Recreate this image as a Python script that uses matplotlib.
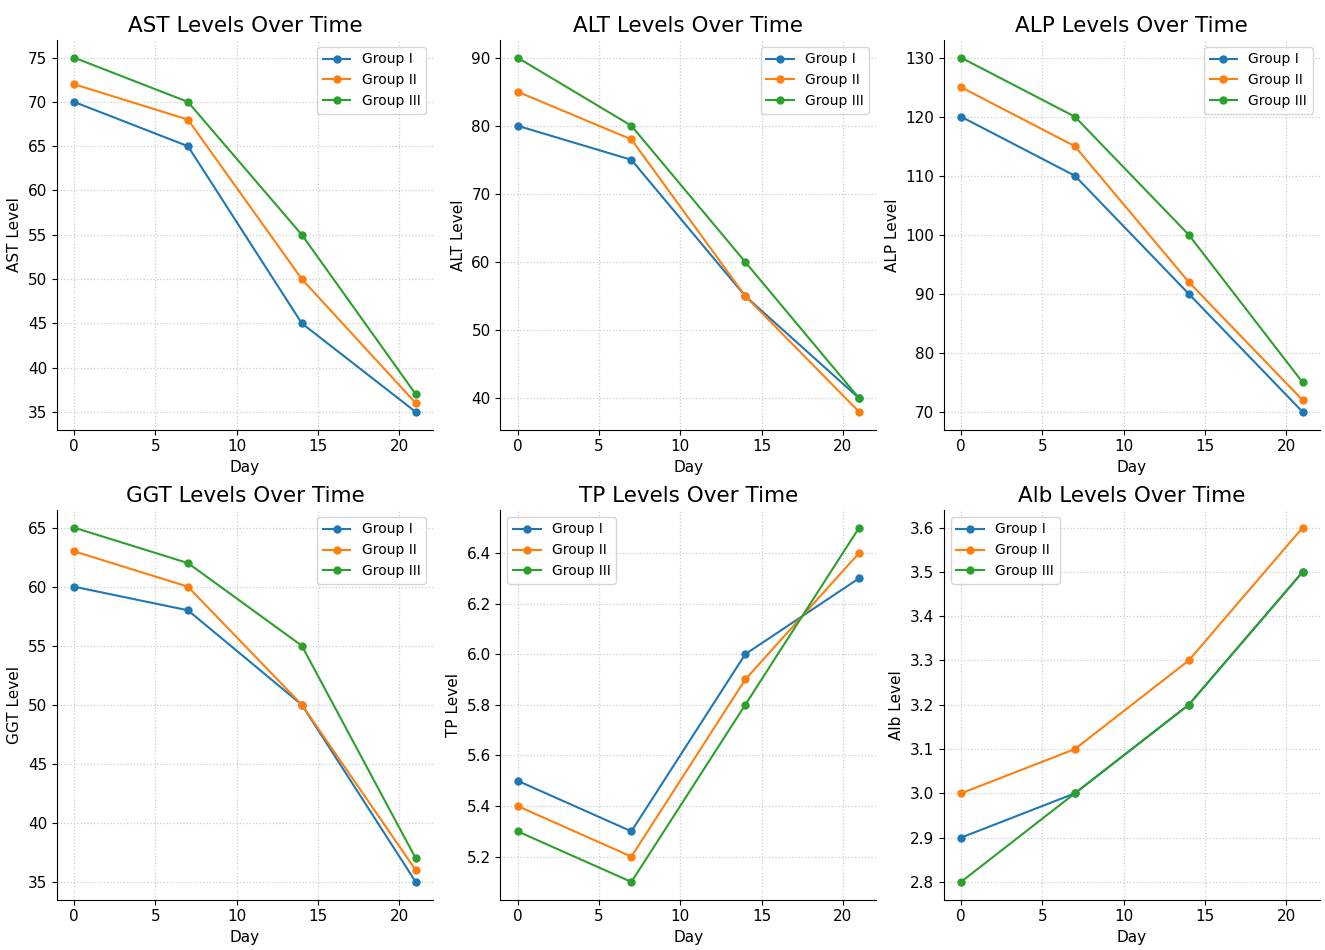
import numpy as np
import matplotlib.pyplot as plt

days = [0, 7, 14, 21]
groups = ["Group I", "Group II", "Group III"]

ast = [[70, 65, 45, 35], [72, 68, 50, 36], [75, 70, 55, 37]]
alt = [[80, 75, 55, 40], [85, 78, 55, 38], [90, 80, 60, 40]]
alp = [[120, 110, 90, 70], [125, 115, 92, 72], [130, 120, 100, 75]]
ggt = [[60, 58, 50, 35], [63, 60, 50, 36], [65, 62, 55, 37]]
tp = [[5.5, 5.3, 6.0, 6.3], [5.4, 5.2, 5.9, 6.4], [5.3, 5.1, 5.8, 6.5]]
alb = [[2.9, 3.0, 3.2, 3.5], [3.0, 3.1, 3.3, 3.6], [2.8, 3.0, 3.2, 3.5]]

panels = [("AST", ast), ("ALT", alt), ("ALP", alp),
          ("GGT", ggt), ("TP", tp), ("Alb", alb)]
legend_locs = ["upper right", "upper right", "upper right",
               "upper right", "upper left", "upper left"]

colors = ["#1f77b4", "#ff7f0e", "#2ca02c"]

fig, axes = plt.subplots(2, 3, figsize=(13.25, 9.5), dpi=100)

for ax, (name, data), loc in zip(axes.flat, panels, legend_locs):
    for g, vals, c in zip(groups, data, colors):
        ax.plot(days, vals, marker="o", markersize=5, color=c, label=g)
    ax.set_title(f"{name} Levels Over Time", fontsize=15.5)
    ax.set_xlabel("Day", fontsize=11)
    ax.set_ylabel(f"{name} Level", fontsize=11)
    ax.tick_params(labelsize=11)
    ax.grid(True, linestyle=":", color="#cccccc", linewidth=0.9)
    ax.spines["top"].set_visible(False)
    ax.spines["right"].set_visible(False)
    ax.legend(loc=loc, fontsize=10)

fig.subplots_adjust(left=0.043, right=0.996, top=0.958, bottom=0.053,
                    wspace=0.18, hspace=0.206)
plt.savefig("out.png")
